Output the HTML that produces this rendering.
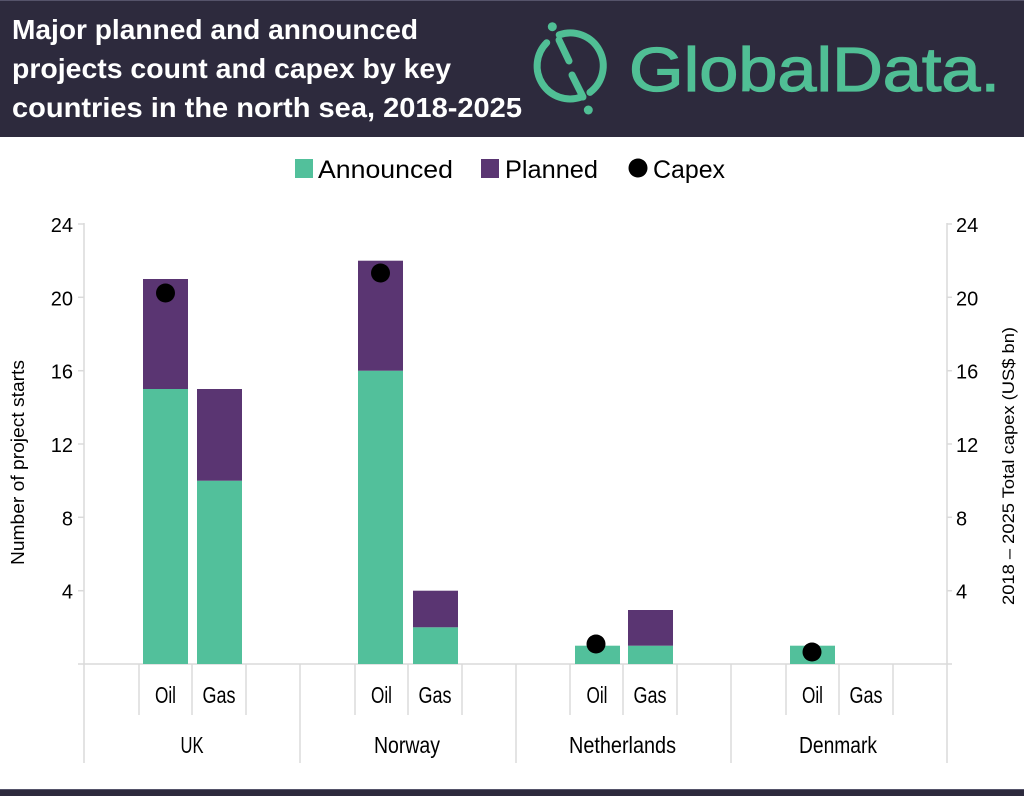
<!DOCTYPE html>
<html><head><meta charset="utf-8"><style>
html,body{margin:0;padding:0;background:#fff;}
svg{display:block;}
text{font-family:"Liberation Sans",sans-serif;}
</style></head><body>
<svg width="1024" height="796" viewBox="0 0 1024 796" xmlns="http://www.w3.org/2000/svg">
<rect x="0" y="0" width="1024" height="137" fill="#2d2a3d"/>
<rect x="0" y="0" width="1024" height="1" fill="#55536a"/>
<g fill="#fff" font-weight="bold" font-size="28">
<text x="12" y="39" textLength="406" lengthAdjust="spacingAndGlyphs">Major planned and announced</text>
<text x="12" y="78" textLength="439" lengthAdjust="spacingAndGlyphs">projects count and capex by key</text>
<text x="12" y="117" textLength="510" lengthAdjust="spacingAndGlyphs">countries in the north sea, 2018-2025</text>
</g>
<g stroke="#50bf95" stroke-width="7" fill="none" stroke-linecap="round">
<path d="M546.7 42.7 A33 33 0 0 0 581.3 97"/>
<path d="M559.2 34.8 A33 33 0 0 1 589.9 92.4"/>
<line x1="559" y1="40" x2="569" y2="61"/>
<line x1="572" y1="75" x2="583" y2="97"/>
</g>
<circle cx="552.3" cy="26.7" r="4.5" fill="#50bf95"/>
<circle cx="588.3" cy="110" r="4.5" fill="#50bf95"/>
<text x="629" y="91" font-size="62" fill="#50bf95" stroke="#50bf95" stroke-width="1.2" textLength="371" lengthAdjust="spacingAndGlyphs">GlobalData.</text>

<rect x="295" y="159" width="18" height="19" fill="#52c09b"/>
<text x="318" y="178" font-size="25" textLength="135" lengthAdjust="spacingAndGlyphs">Announced</text>
<rect x="481" y="159" width="18" height="19" fill="#5a3572"/>
<text x="505" y="178" font-size="25" textLength="93" lengthAdjust="spacingAndGlyphs">Planned</text>
<circle cx="638" cy="168" r="9.5" fill="#000"/>
<text x="653" y="178" font-size="25" textLength="72" lengthAdjust="spacingAndGlyphs">Capex</text>

<g stroke="#dadada" stroke-width="1.5" fill="none">
<line x1="84" y1="223" x2="84" y2="763"/>
<line x1="947" y1="223" x2="947" y2="763"/>
<line x1="78" y1="664" x2="952" y2="664"/>
<line x1="78" y1="224" x2="84" y2="224"/>
<line x1="78" y1="297.3" x2="84" y2="297.3"/>
<line x1="78" y1="370.7" x2="84" y2="370.7"/>
<line x1="78" y1="444" x2="84" y2="444"/>
<line x1="78" y1="517.3" x2="84" y2="517.3"/>
<line x1="78" y1="590.7" x2="84" y2="590.7"/>
<line x1="947" y1="224" x2="952" y2="224"/>
<line x1="947" y1="297.3" x2="952" y2="297.3"/>
<line x1="947" y1="370.7" x2="952" y2="370.7"/>
<line x1="947" y1="444" x2="952" y2="444"/>
<line x1="947" y1="517.3" x2="952" y2="517.3"/>
<line x1="947" y1="590.7" x2="952" y2="590.7"/>
<line x1="300" y1="664" x2="300" y2="763"/>
<line x1="516" y1="664" x2="516" y2="763"/>
<line x1="731" y1="664" x2="731" y2="763"/>
<line x1="139" y1="664" x2="139" y2="715"/>
<line x1="192" y1="664" x2="192" y2="715"/>
<line x1="246" y1="664" x2="246" y2="715"/>
<line x1="355" y1="664" x2="355" y2="715"/>
<line x1="408" y1="664" x2="408" y2="715"/>
<line x1="462" y1="664" x2="462" y2="715"/>
<line x1="570" y1="664" x2="570" y2="715"/>
<line x1="623" y1="664" x2="623" y2="715"/>
<line x1="677" y1="664" x2="677" y2="715"/>
<line x1="786" y1="664" x2="786" y2="715"/>
<line x1="839" y1="664" x2="839" y2="715"/>
<line x1="893" y1="664" x2="893" y2="715"/>
</g>

<g font-size="20" text-anchor="end">
<text x="73" y="232">24</text>
<text x="73" y="305.3">20</text>
<text x="73" y="378.7">16</text>
<text x="73" y="452">12</text>
<text x="73" y="525.3">8</text>
<text x="73" y="598.7">4</text>
</g>
<g font-size="20">
<text x="956" y="232">24</text>
<text x="956" y="305.3">20</text>
<text x="956" y="378.7">16</text>
<text x="956" y="452">12</text>
<text x="956" y="525.3">8</text>
<text x="956" y="598.7">4</text>
</g>
<text transform="translate(24,565) rotate(-90)" font-size="18" textLength="205" lengthAdjust="spacingAndGlyphs">Number of project starts</text>
<text transform="translate(1014,605) rotate(-90)" font-size="17" textLength="278" lengthAdjust="spacingAndGlyphs">2018 – 2025 Total capex (US$ bn)</text>

<g>
<rect x="143" y="389" width="45" height="275" fill="#52c09b"/>
<rect x="143" y="279" width="45" height="110" fill="#5a3572"/>
<rect x="197" y="480.7" width="45" height="183.3" fill="#52c09b"/>
<rect x="197" y="389" width="45" height="91.7" fill="#5a3572"/>
<rect x="358" y="370.7" width="45" height="293.3" fill="#52c09b"/>
<rect x="358" y="260.7" width="45" height="110" fill="#5a3572"/>
<rect x="413" y="627.3" width="45" height="36.7" fill="#52c09b"/>
<rect x="413" y="590.7" width="45" height="36.6" fill="#5a3572"/>
<rect x="575" y="645.7" width="45" height="18.3" fill="#52c09b"/>
<rect x="628" y="645.7" width="45" height="18.3" fill="#52c09b"/>
<rect x="628" y="610" width="45" height="35.7" fill="#5a3572"/>
<rect x="790" y="645.7" width="45" height="18.3" fill="#52c09b"/>
</g>
<g fill="#000">
<circle cx="165.5" cy="293" r="9.5"/>
<circle cx="380.5" cy="273" r="9.5"/>
<circle cx="596" cy="644" r="9.5"/>
<circle cx="812" cy="652" r="9.5"/>
</g>

<g font-size="23" text-anchor="middle">
<text x="165.5" y="703" textLength="21" lengthAdjust="spacingAndGlyphs">Oil</text>
<text x="219" y="703" textLength="33" lengthAdjust="spacingAndGlyphs">Gas</text>
<text x="381.5" y="703" textLength="21" lengthAdjust="spacingAndGlyphs">Oil</text>
<text x="435" y="703" textLength="33" lengthAdjust="spacingAndGlyphs">Gas</text>
<text x="597" y="703" textLength="21" lengthAdjust="spacingAndGlyphs">Oil</text>
<text x="650" y="703" textLength="33" lengthAdjust="spacingAndGlyphs">Gas</text>
<text x="812.5" y="703" textLength="21" lengthAdjust="spacingAndGlyphs">Oil</text>
<text x="866" y="703" textLength="33" lengthAdjust="spacingAndGlyphs">Gas</text>
<text x="192" y="753" textLength="23" lengthAdjust="spacingAndGlyphs">UK</text>
<text x="407" y="753" textLength="66" lengthAdjust="spacingAndGlyphs">Norway</text>
<text x="622.5" y="753" textLength="107" lengthAdjust="spacingAndGlyphs">Netherlands</text>
<text x="838" y="753" textLength="78" lengthAdjust="spacingAndGlyphs">Denmark</text>
</g>

<rect x="0" y="789" width="1024" height="1" fill="#55536a"/>
<rect x="0" y="790" width="1024" height="6" fill="#2d2a3d"/>
</svg>
</body></html>
